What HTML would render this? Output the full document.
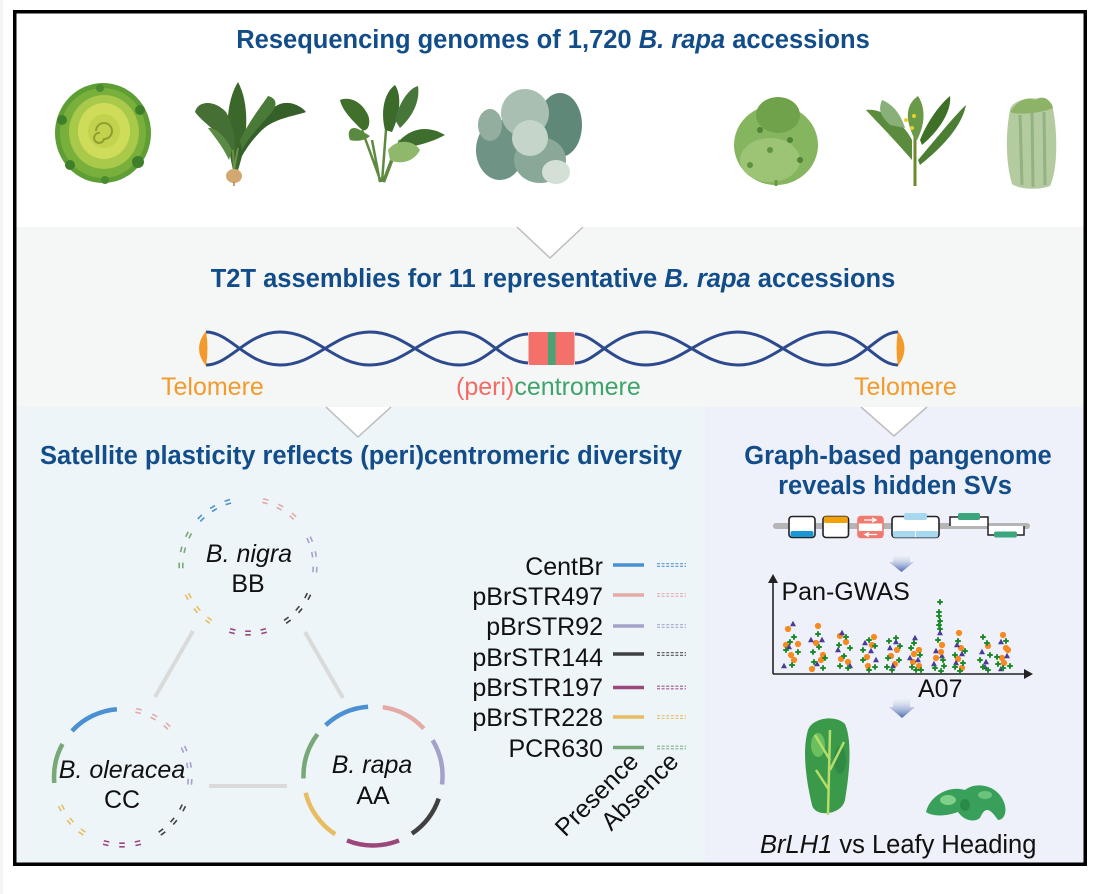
<!DOCTYPE html>
<html><head><meta charset="utf-8"><style>
html,body{margin:0;padding:0;background:#fff;}
svg{display:block;}
text{font-family:"Liberation Sans",Arial,sans-serif;}
</style></head><body>
<svg width="1098" height="894" viewBox="0 0 1098 894" xmlns="http://www.w3.org/2000/svg">
<defs>
<linearGradient id="ag" x1="0" y1="0" x2="0" y2="1"><stop offset="0" stop-color="#ffffff" stop-opacity="0.2"/><stop offset="1" stop-color="#4a67ad"/></linearGradient>
<g id="mk"><rect x="-2.6" y="-2.8" width="1.6" height="5.6"/><rect x="1.0" y="-2.8" width="1.6" height="5.6"/></g>
<circle id="po" r="3.1" fill="#f7891f"/>
<path id="pt" d="M0,-3.2 L3,2.2 L-3,2.2Z" fill="#4b3a9a"/>
<path id="pg" d="M-1,-2.8 H1 V-1 H2.8 V1 H1 V2.8 H-1 V1 H-2.8 V-1 H-1Z" fill="#1f8a2a"/>
</defs>
<rect x="0" y="0" width="3" height="894" fill="#f4f4f4"/>
<!-- section backgrounds -->
<rect x="16" y="13" width="1068" height="214" fill="#ffffff"/>
<rect x="16" y="227" width="1068" height="180" fill="#f5f7f7"/>
<rect x="16" y="407" width="689" height="457" fill="#edf5f9"/>
<rect x="705" y="407" width="379" height="457" fill="#eef1fa"/>
<!-- triangles -->
<polygon points="517,227 583,227 550,258" fill="#fff"/>
<path d="M517,227 L550,258 L583,227" fill="none" stroke="#bdbdbd" stroke-width="1.5"/>
<polygon points="326,407 391,407 358,437" fill="#fff"/>
<path d="M326,407 L358,437 L391,407" fill="none" stroke="#bdbdbd" stroke-width="1.5"/>
<polygon points="861,407 927,407 894,436" fill="#fff"/>
<path d="M861,407 L894,436 L927,407" fill="none" stroke="#bdbdbd" stroke-width="1.5"/>
<!-- frame -->
<rect x="14.75" y="11.75" width="1070.5" height="852.5" fill="none" stroke="#000" stroke-width="3.5"/>

<!-- titles -->
<g font-weight="bold" font-size="25.5" fill="#124d8a">
<text x="553" y="48" text-anchor="middle">Resequencing genomes of 1,720 <tspan font-style="italic">B. rapa</tspan> accessions</text>
<text x="553" y="287" text-anchor="middle">T2T assemblies for 11 representative <tspan font-style="italic">B. rapa</tspan> accessions</text>
<text x="40" y="464">Satellite plasticity reflects (peri)centromeric diversity</text>
<text x="898" y="464" text-anchor="middle">Graph-based pangenome</text>
<text x="895" y="494" text-anchor="middle">reveals hidden SVs</text>
</g>

<!-- plants top -->
<g>
<ellipse cx="103" cy="133" rx="48" ry="50" fill="#5e9e35"/>
<ellipse cx="103" cy="133" rx="43" ry="45" fill="#79b03c"/>
<ellipse cx="104" cy="132" rx="35" ry="37" fill="#a9c94a"/>
<ellipse cx="104" cy="131" rx="26" ry="28" fill="#cfdc5a"/>
<ellipse cx="104" cy="131" rx="16" ry="17" fill="#c3d24c"/>
<path d="M96,131 a8,8 0 1,1 8,8 a5,5 0 1,1 -4,-6" stroke="#8f9e2e" fill="none" stroke-width="2"/>
<circle cx="62" cy="120" r="5" fill="#3f7f2a"/><circle cx="70" cy="165" r="5" fill="#3f7f2a"/><circle cx="140" cy="110" r="5" fill="#3f7f2a"/><circle cx="138" cy="162" r="6" fill="#3f7f2a"/><circle cx="100" cy="88" r="4" fill="#4a8a30"/><circle cx="105" cy="180" r="4" fill="#4a8a30"/>
</g>
<g>
<path d="M233,170 C226,140 224,105 238,82 C250,104 248,140 238,170Z" fill="#3b672b"/>
<path d="M231,150 C220,132 205,125 195,112 C198,100 215,100 226,112 C232,122 235,135 235,150Z" fill="#466f35"/>
<path d="M238,150 C248,130 262,112 280,104 C292,100 303,108 306,112 C295,116 275,118 262,130 C252,140 245,150 240,160Z" fill="#35602a"/>
<path d="M240,140 C250,120 262,105 268,96 C276,98 278,104 272,112 C262,124 250,135 242,150Z" fill="#4a7a37"/>
<path d="M229,160 C222,145 213,135 208,128 C214,127 224,134 232,150Z" fill="#5b8a45"/>
<path d="M234,170 L233,150 M234,170 L238,148" stroke="#6a8f4a" stroke-width="2"/>
<ellipse cx="234" cy="176" rx="8" ry="7" fill="#d2a870"/>
<path d="M234,182 L234,186" stroke="#b08050" stroke-width="1.5"/>
</g>
<g>
<path d="M380,182 L372,140 M382,182 L386,130 M384,182 L400,140 M381,182 L362,130 M383,182 L395,150" stroke="#5d8a3f" stroke-width="2.5" fill="none"/>
<path d="M340,100 C350,96 362,102 368,115 C372,125 366,135 360,128 C352,120 342,110 340,100Z" fill="#40702c"/>
<path d="M385,130 C380,110 385,92 395,85 C402,95 400,115 392,132Z" fill="#3b6a2a"/>
<path d="M395,120 C400,100 410,88 418,86 C420,100 414,115 400,128Z" fill="#46763a"/>
<path d="M400,140 C412,128 428,125 445,135 C432,142 418,146 402,148Z" fill="#3e6e2e"/>
<path d="M388,150 C395,140 412,138 420,150 C414,162 400,165 390,160Z" fill="#8fb86a"/>
<path d="M360,130 C352,125 346,130 350,140 C358,142 366,140 370,136Z" fill="#5a8a40"/>
</g>
<g>
<ellipse cx="500" cy="150" rx="24" ry="30" fill="#6f9384"/>
<ellipse cx="560" cy="125" rx="22" ry="32" fill="#5f8878"/>
<ellipse cx="525" cy="113" rx="24" ry="24" fill="#a8bfb1"/>
<ellipse cx="540" cy="160" rx="26" ry="23" fill="#8aa898"/>
<ellipse cx="530" cy="138" rx="18" ry="18" fill="#c5d5c9"/>
<ellipse cx="556" cy="172" rx="14" ry="12" fill="#d4e0d6"/>
<ellipse cx="490" cy="125" rx="12" ry="16" fill="#93ad9f"/>
</g>
<g>
<ellipse cx="776" cy="145" rx="42" ry="40" fill="#86b560"/>
<ellipse cx="778" cy="115" rx="22" ry="18" fill="#6fa24a"/>
<ellipse cx="770" cy="160" rx="30" ry="22" fill="#9cc474"/>
<circle cx="760" cy="130" r="3" fill="#4e8433"/><circle cx="790" cy="140" r="3" fill="#4e8433"/><circle cx="770" cy="150" r="3" fill="#5d9240"/><circle cx="800" cy="160" r="3" fill="#4e8433"/><circle cx="750" cy="165" r="3" fill="#5d9240"/>
<path d="M776,180 L776,186" stroke="#6a9a48" stroke-width="3"/>
</g>
<g>
<path d="M915,186 L915,135" stroke="#6b8a2a" stroke-width="3"/>
<path d="M912,160 C895,140 875,120 866,110 C880,108 902,120 912,140Z" fill="#5b8b3c"/>
<path d="M918,160 C935,140 955,115 966,105 C962,125 945,145 920,165Z" fill="#4b7d33"/>
<path d="M915,140 C905,120 905,105 918,96 C926,108 925,125 917,140Z" fill="#6a9a48"/>
<path d="M920,140 C930,115 945,100 950,96 C952,110 940,130 922,145Z" fill="#3e7028"/>
<path d="M890,125 C880,115 878,110 882,100 C895,105 902,118 905,128Z" fill="#8ab07a"/>
<circle cx="906" cy="120" r="2" fill="#e8d22a"/><circle cx="914" cy="116" r="2" fill="#e8d22a"/><circle cx="912" cy="128" r="2" fill="#e8d22a"/>
</g>
<g>
<path d="M1010,110 C1012,98 1040,94 1052,104 C1058,130 1058,170 1050,186 C1040,190 1020,190 1012,184 C1005,160 1006,130 1010,110Z" fill="#b4cba0"/>
<path d="M1020,115 L1022,185 M1032,110 L1033,187 M1044,112 L1045,185" stroke="#94b184" stroke-width="3"/>
<path d="M1010,112 C1018,100 1028,96 1035,100 C1042,95 1050,98 1053,108 C1045,112 1020,116 1010,112Z" fill="#8db466"/>
</g>

<!-- chromosome -->
<g fill="none" stroke="#2d4a8e" stroke-width="3">
<path d="M206,332 C230,332 247,365 280,365 C316,365 334,332 370,332 C406,332 424,365 460,365 C487,365 501,335 528,334"/>
<path d="M206,365 C230,365 247,332 280,332 C316,332 334,365 370,365 C406,365 424,332 460,332 C487,332 501,362 528,363"/>
<path d="M575,334 C596,334 612,365 646,365 C682,365 701,332 738,332 C774,332 792,365 828,365 C862,365 876,332 898,332"/>
<path d="M575,363 C596,363 612,332 646,332 C682,332 701,365 738,365 C774,365 792,332 828,332 C862,332 876,365 898,365"/>
</g>
<path d="M206,331 Q192,348.5 206,366 Q209,348.5 206,331Z" fill="#f39a2b"/>
<path d="M898,331 Q911,348.5 898,366 Q895,348.5 898,331Z" fill="#f39a2b"/>
<rect x="528.5" y="332" width="46" height="33" rx="2" fill="#f4706a"/>
<rect x="548" y="332" width="7.6" height="33" fill="#4aa377"/>
<g font-size="25">
<text x="161" y="395" fill="#f39a2b">Telomere</text>
<text x="854" y="395" fill="#f39a2b">Telomere</text>
<text x="456" y="395"><tspan fill="#f26b64">(peri)</tspan><tspan fill="#3ea46c">centromere</tspan></text>
</g>

<!-- circles diagram -->
<g stroke="#dadada" stroke-width="4" fill="none">
<line x1="193" y1="631" x2="155" y2="697"/>
<line x1="305" y1="632" x2="343" y2="698"/>
<line x1="209" y1="786" x2="287" y2="786"/>
</g>
<g fill="none" stroke-width="4.5">
<path d="M325.6,725.2 A69.5,69.5 0 0 1 368.1,706.7" stroke="#4a90d2"/>
<path d="M382.7,707.2 A69.5,69.5 0 0 1 423.8,728.6" stroke="#e3aaa6"/>
<path d="M432.6,740.2 A69.5,69.5 0 0 1 442.0,784.5" stroke="#a3a2cb"/>
<path d="M438.7,798.6 A69.5,69.5 0 0 1 411.9,833.6" stroke="#404040"/>
<path d="M399.0,840.4 A69.5,69.5 0 0 1 347.0,840.4" stroke="#9c477c"/>
<path d="M335.2,834.3 A69.5,69.5 0 0 1 305.6,792.8" stroke="#e8bd62"/>
<path d="M303.5,778.4 A69.5,69.5 0 0 1 317.5,734.2" stroke="#78a877"/>
<path d="M72.0,731.0 A68,68 0 0 1 116.9,709.2" stroke="#4a90d2"/>
<path d="M54.3,782.9 A68,68 0 0 1 62.5,744.0" stroke="#78a877"/>
</g>
<!-- nigra marks -->
<g fill="#78a877"><use href="#mk" transform="translate(248 566) rotate(180.5) translate(67 0)"/><use href="#mk" transform="translate(248 566) rotate(194) translate(67 0)"/><use href="#mk" transform="translate(248 566) rotate(207.5) translate(67 0)"/></g>
<g fill="#4a90d2"><use href="#mk" transform="translate(248 566) rotate(225.5) translate(67 0)"/><use href="#mk" transform="translate(248 566) rotate(239) translate(67 0)"/><use href="#mk" transform="translate(248 566) rotate(252.5) translate(67 0)"/></g>
<g fill="#e3aaa6"><use href="#mk" transform="translate(248 566) rotate(285) translate(67 0)"/><use href="#mk" transform="translate(248 566) rotate(298.5) translate(67 0)"/><use href="#mk" transform="translate(248 566) rotate(312) translate(67 0)"/></g>
<g fill="#a3a2cb"><use href="#mk" transform="translate(248 566) rotate(337) translate(67 0)"/><use href="#mk" transform="translate(248 566) rotate(350) translate(67 0)"/><use href="#mk" transform="translate(248 566) rotate(363) translate(67 0)"/></g>
<g fill="#404040"><use href="#mk" transform="translate(248 566) rotate(27) translate(67 0)"/><use href="#mk" transform="translate(248 566) rotate(40.5) translate(67 0)"/><use href="#mk" transform="translate(248 566) rotate(54) translate(67 0)"/></g>
<g fill="#9c477c"><use href="#mk" transform="translate(248 566) rotate(76.5) translate(67 0)"/><use href="#mk" transform="translate(248 566) rotate(90) translate(67 0)"/><use href="#mk" transform="translate(248 566) rotate(103.5) translate(67 0)"/></g>
<g fill="#e8bd62"><use href="#mk" transform="translate(248 566) rotate(126) translate(67 0)"/><use href="#mk" transform="translate(248 566) rotate(139.5) translate(67 0)"/><use href="#mk" transform="translate(248 566) rotate(153) translate(67 0)"/></g>
<!-- oleracea marks -->
<g fill="#e3aaa6"><use href="#mk" transform="translate(122 777) rotate(284) translate(68 0)"/><use href="#mk" transform="translate(122 777) rotate(298) translate(68 0)"/><use href="#mk" transform="translate(122 777) rotate(311.5) translate(68 0)"/></g>
<g fill="#a3a2cb"><use href="#mk" transform="translate(122 777) rotate(336) translate(68 0)"/><use href="#mk" transform="translate(122 777) rotate(350) translate(68 0)"/><use href="#mk" transform="translate(122 777) rotate(364) translate(68 0)"/></g>
<g fill="#404040"><use href="#mk" transform="translate(122 777) rotate(27) translate(68 0)"/><use href="#mk" transform="translate(122 777) rotate(40.5) translate(68 0)"/><use href="#mk" transform="translate(122 777) rotate(54) translate(68 0)"/></g>
<g fill="#9c477c"><use href="#mk" transform="translate(122 777) rotate(76.5) translate(68 0)"/><use href="#mk" transform="translate(122 777) rotate(90) translate(68 0)"/><use href="#mk" transform="translate(122 777) rotate(103.5) translate(68 0)"/></g>
<g fill="#e8bd62"><use href="#mk" transform="translate(122 777) rotate(126) translate(68 0)"/><use href="#mk" transform="translate(122 777) rotate(139.5) translate(68 0)"/><use href="#mk" transform="translate(122 777) rotate(153) translate(68 0)"/></g>

<g font-size="25" fill="#111" text-anchor="middle">
<text x="249" y="562" font-style="italic">B. nigra</text>
<text x="248" y="592">BB</text>
<text x="122" y="778" font-style="italic">B. oleracea</text>
<text x="122" y="808">CC</text>
<text x="372" y="773" font-style="italic">B. rapa</text>
<text x="373" y="804">AA</text>
</g>

<!-- legend -->
<g font-size="25" fill="#111" text-anchor="end">
<text x="603" y="575">CentBr</text>
<text x="603" y="605">pBrSTR497</text>
<text x="603" y="635">pBrSTR92</text>
<text x="603" y="666">pBrSTR144</text>
<text x="603" y="696">pBrSTR197</text>
<text x="603" y="726">pBrSTR228</text>
<text x="603" y="757">PCR630</text>
</g>
<g stroke-width="3.6">
<line x1="613" y1="565" x2="644" y2="565" stroke="#4a90d2"/>
<line x1="613" y1="595" x2="644" y2="595" stroke="#e3aaa6"/>
<line x1="613" y1="626" x2="644" y2="626" stroke="#a3a2cb"/>
<line x1="613" y1="654" x2="644" y2="654" stroke="#404040"/>
<line x1="613" y1="687.5" x2="644" y2="687.5" stroke="#9c477c"/>
<line x1="613" y1="717" x2="644" y2="717" stroke="#e8bd62"/>
<line x1="613" y1="747.5" x2="644" y2="747.5" stroke="#78a877"/>
</g>
<g stroke-width="1.2" stroke-dasharray="3 1.6" opacity="0.9">
<path d="M657,563.7 H686 M657,566.3 H686" stroke="#4a90d2"/>
<path d="M657,593.7 H686 M657,596.3 H686" stroke="#e3aaa6"/>
<path d="M657,624.7 H686 M657,627.3 H686" stroke="#a3a2cb"/>
<path d="M657,652.7 H686 M657,655.3 H686" stroke="#404040"/>
<path d="M657,686.2 H686 M657,688.8 H686" stroke="#9c477c"/>
<path d="M657,715.7 H686 M657,718.3 H686" stroke="#e8bd62"/>
<path d="M657,746.2 H686 M657,748.8 H686" stroke="#78a877"/>
</g>
<g font-size="25" fill="#111" text-anchor="end">
<text transform="translate(640 763) rotate(-45)">Presence</text>
<text transform="translate(680 763) rotate(-45)">Absence</text>
</g>

<!-- SV schematic -->
<line x1="776" y1="526" x2="1027" y2="526" stroke="#b5b5b5" stroke-width="6" stroke-linecap="round"/>
<rect x="789" y="516.5" width="26" height="21" rx="3" fill="#fff" stroke="#222" stroke-width="1.6"/>
<rect x="790.5" y="531" width="23" height="6" rx="2" fill="#1a96d4"/>
<rect x="823" y="516.5" width="25.5" height="21" rx="3" fill="#fff" stroke="#222" stroke-width="1.6"/>
<rect x="823.8" y="516.5" width="24" height="6.5" rx="2" fill="#f0a20c"/>
<rect x="858" y="516.5" width="25" height="21" rx="3" fill="#fff" stroke="#f07a6e" stroke-width="1.6"/>
<rect x="858" y="516.5" width="25" height="7" rx="2" fill="#f07a6e"/>
<rect x="858" y="531" width="25" height="7" rx="2" fill="#f07a6e"/>
<path d="M864,520 H875 M872,518 L876,520 L872,522" stroke="#fff" stroke-width="1.3" fill="none"/>
<path d="M866,534.5 H877 M869,532.5 L865,534.5 L869,536.5" stroke="#fff" stroke-width="1.3" fill="none"/>
<rect x="892" y="516.5" width="47" height="21" rx="3" fill="#fff" stroke="#222" stroke-width="1.6"/>
<rect x="893" y="531" width="45" height="6.5" rx="2" fill="#a8d8f0"/>
<line x1="915.5" y1="531" x2="915.5" y2="537.5" stroke="#fff" stroke-width="0.8"/>
<rect x="904" y="513" width="23" height="7" rx="2" fill="#a8d8f0"/>
<path d="M950,526 L950,517 L988,517 L988,526" stroke="#222" stroke-width="1.5" fill="#fff"/>
<rect x="958" y="513" width="22" height="7" rx="2" fill="#3ba57b"/>
<path d="M988,526 L988,535 L1024,535 L1024,526" stroke="#222" stroke-width="1.5" fill="#fff"/>
<rect x="994" y="531.5" width="23" height="6" rx="2" fill="#3ba57b"/>

<!-- arrows -->
<path d="M893,553 Q901.5,559 910,553 L910,562 L914,562 L901.5,572 L889,562 L893,562Z" fill="url(#ag)"/>
<path d="M893,696 Q901.5,702 910,696 L910,707 L915,707 L902,718 L889,707 L893,707Z" fill="url(#ag)"/>

<!-- GWAS plot -->
<line x1="773" y1="580" x2="773" y2="674" stroke="#222" stroke-width="1.6"/>
<line x1="773" y1="674" x2="1026" y2="674" stroke="#222" stroke-width="1.6"/>
<polygon points="768,583 778,583 773,574" fill="#222"/>
<polygon points="1024,669 1024,679 1033,674" fill="#222"/>
<text x="781.5" y="600" font-size="25" fill="#111">Pan-GWAS</text>
<text x="918" y="697" font-size="25" fill="#111">A07</text>
<g>
<use href="#po" x="788" y="629"/><use href="#po" x="786" y="645"/><use href="#po" x="791" y="655"/><use href="#po" x="798" y="644"/><use href="#po" x="794" y="660"/>
<use href="#pt" x="793" y="624"/><use href="#pt" x="789" y="647"/><use href="#pt" x="784" y="666"/>
<use href="#pg" x="794" y="637"/><use href="#pg" x="786" y="650"/><use href="#pg" x="798" y="652"/><use href="#pg" x="792" y="665"/><use href="#pg" x="790" y="642"/>

<use href="#po" x="818" y="626"/><use href="#po" x="816" y="643"/><use href="#po" x="821" y="660"/><use href="#po" x="812" y="669"/><use href="#po" x="823" y="655"/>
<use href="#pt" x="811" y="640"/><use href="#pt" x="822" y="640"/><use href="#pt" x="817" y="664"/>
<use href="#pg" x="818" y="634"/><use href="#pg" x="813" y="652"/><use href="#pg" x="825" y="658"/><use href="#pg" x="819" y="647"/><use href="#pg" x="814" y="662"/><use href="#pg" x="823" y="668"/>

<use href="#po" x="840" y="636"/><use href="#po" x="846" y="642"/><use href="#po" x="841" y="659"/><use href="#po" x="848" y="662"/>
<use href="#pt" x="842" y="633"/><use href="#pt" x="838" y="650"/><use href="#pt" x="850" y="666"/>
<use href="#pg" x="846" y="637"/><use href="#pg" x="839" y="645"/><use href="#pg" x="850" y="648"/><use href="#pg" x="844" y="656"/><use href="#pg" x="848" y="668"/><use href="#pg" x="840" y="666"/>

<use href="#po" x="874" y="637"/><use href="#po" x="867" y="657"/><use href="#po" x="868" y="666"/><use href="#po" x="872" y="645"/>
<use href="#pt" x="865" y="643"/><use href="#pt" x="871" y="651"/><use href="#pt" x="876" y="660"/>
<use href="#pg" x="863" y="650"/><use href="#pg" x="869" y="640"/><use href="#pg" x="875" y="646"/><use href="#pg" x="863" y="660"/><use href="#pg" x="875" y="667"/><use href="#pg" x="869" y="670"/>

<use href="#po" x="891" y="656"/><use href="#po" x="895" y="664"/><use href="#po" x="897" y="650"/>
<use href="#pt" x="890" y="648"/><use href="#pt" x="896" y="642"/><use href="#pt" x="893" y="666"/>
<use href="#pg" x="889" y="641"/><use href="#pg" x="896" y="638"/><use href="#pg" x="900" y="646"/><use href="#pg" x="888" y="658"/><use href="#pg" x="899" y="660"/><use href="#pg" x="892" y="670"/><use href="#pg" x="887" y="667"/>

<use href="#po" x="914" y="654"/><use href="#po" x="919" y="650"/><use href="#po" x="913" y="662"/><use href="#po" x="919" y="666"/>
<use href="#pt" x="915" y="638"/><use href="#pt" x="910" y="658"/><use href="#pt" x="918" y="660"/>
<use href="#pg" x="914" y="643"/><use href="#pg" x="920" y="655"/><use href="#pg" x="911" y="648"/><use href="#pg" x="916" y="670"/><use href="#pg" x="921" y="670"/><use href="#pg" x="912" y="667"/>

<use href="#pg" x="940" y="602"/><use href="#pg" x="939" y="612"/><use href="#pg" x="939" y="616"/><use href="#pg" x="940" y="621"/><use href="#pg" x="939" y="625"/><use href="#pg" x="940" y="629"/>
<use href="#pt" x="940" y="633"/><use href="#pt" x="936" y="651"/><use href="#pt" x="942" y="656"/><use href="#pt" x="934" y="664"/>
<use href="#po" x="942" y="645"/><use href="#po" x="941" y="652"/><use href="#po" x="936" y="658"/>
<use href="#pg" x="938" y="640"/><use href="#pg" x="943" y="660"/><use href="#pg" x="935" y="668"/><use href="#pg" x="941" y="671"/><use href="#pg" x="944" y="666"/>

<use href="#po" x="959" y="633"/><use href="#po" x="961" y="648"/><use href="#po" x="958" y="659"/><use href="#po" x="962" y="668"/>
<use href="#pt" x="957" y="645"/><use href="#pt" x="962" y="654"/><use href="#pt" x="956" y="663"/>
<use href="#pg" x="958" y="641"/><use href="#pg" x="965" y="651"/><use href="#pg" x="955" y="655"/><use href="#pg" x="963" y="663"/><use href="#pg" x="955" y="667"/><use href="#pg" x="960" y="671"/>

<use href="#po" x="988" y="646"/>
<use href="#pt" x="982" y="652"/><use href="#pt" x="986" y="662"/><use href="#pt" x="985" y="667"/>
<use href="#pg" x="983" y="637"/><use href="#pg" x="987" y="643"/><use href="#pg" x="980" y="660"/><use href="#pg" x="990" y="655"/><use href="#pg" x="983" y="667"/><use href="#pg" x="988" y="670"/>

<use href="#po" x="1003" y="635"/><use href="#po" x="1006" y="648"/><use href="#po" x="1008" y="650"/><use href="#po" x="1002" y="658"/><use href="#po" x="1004" y="663"/>
<use href="#pt" x="1001" y="642"/><use href="#pt" x="1007" y="656"/><use href="#pt" x="1001" y="669"/>
<use href="#pg" x="1006" y="641"/><use href="#pg" x="997" y="657"/><use href="#pg" x="1010" y="666"/><use href="#pg" x="1003" y="668"/><use href="#pg" x="998" y="664"/>
</g>

<!-- bottom plants -->
<g>
<path d="M808,730 C812,718 835,714 845,724 C852,740 850,770 845,800 C842,815 815,818 812,805 C806,780 802,750 808,730Z" fill="#3b9a4a"/>
<ellipse cx="818" cy="745" rx="7" ry="12" fill="#6cbf5e"/>
<ellipse cx="840" cy="760" rx="6" ry="14" fill="#2f8a44"/>
<path d="M828,815 L830,730 M830,760 L815,735 M830,770 L844,742 M829,790 L816,770" stroke="#b6dd6a" stroke-width="2.5" fill="none"/>
</g>
<g>
<path d="M926,812 C930,795 950,785 965,790 C975,782 995,784 1003,800 C1008,810 1005,820 998,820 C990,808 985,806 980,818 C975,822 965,822 958,812 C950,815 935,818 926,812Z" fill="#38a05a"/>
<ellipse cx="948" cy="800" rx="8" ry="5" fill="#7ed08a"/>
<ellipse cx="985" cy="795" rx="7" ry="4" fill="#6cc47c"/>
<ellipse cx="965" cy="805" rx="5" ry="6" fill="#2a8a4a"/>
</g>
<text x="760" y="853" font-size="25.5" fill="#111"><tspan font-style="italic">BrLH1</tspan> vs Leafy Heading</text>
</svg>
</body></html>
